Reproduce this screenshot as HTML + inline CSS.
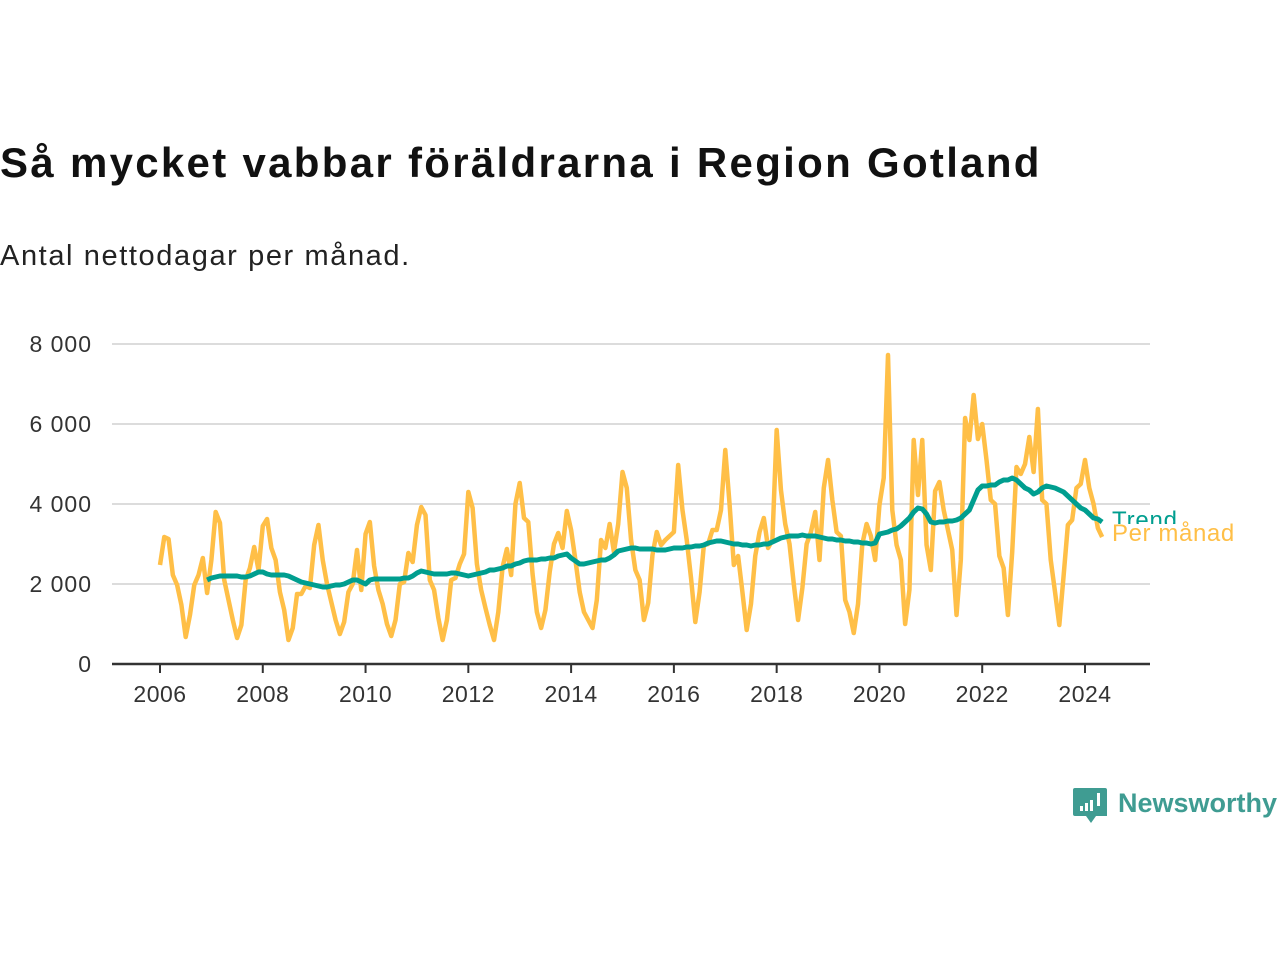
<!DOCTYPE html>
<html><head><meta charset="utf-8">
<style>
html,body{margin:0;padding:0;background:#fff;width:1280px;height:960px;overflow:hidden;font-family:"Liberation Sans","DejaVu Sans",sans-serif;}
#title{position:absolute;left:0;top:139px;font-size:42px;font-weight:bold;color:#111;margin:0;letter-spacing:2.3px}
#sub{position:absolute;left:0;top:240px;font-size:29px;color:#222;letter-spacing:1.6px}
svg{position:absolute;left:0;top:0}
</style></head><body>
<h1 id="title">Så mycket vabbar föräldrarna i Region Gotland</h1>
<div id="sub">Antal nettodagar per månad.</div>
<svg id="chart" width="1280" height="960"></svg>
<script>
const monthly = [
2475,3175,3125,2225,1975,1475,675,1225,1975,2225,2650,1775,
2600,3800,3525,2100,1600,1100,650,975,2100,2400,2925,2350,
3450,3625,2900,2600,1800,1350,600,900,1750,1750,1950,1900,
2975,3475,2600,2000,1550,1100,750,1050,1800,2000,2850,1850,
3250,3550,2450,1850,1500,1000,700,1100,2000,2050,2775,2550,
3475,3925,3725,2100,1850,1150,600,1100,2100,2150,2500,2750,
4300,3900,2500,1850,1400,975,600,1300,2425,2875,2225,4000,
4525,3650,3550,2250,1300,900,1350,2300,3000,3275,2900,3825,
3350,2600,1800,1300,1100,900,1600,3100,2900,3500,2800,3500,
4800,4400,3100,2350,2100,1100,1525,2725,3300,2975,3100,3200,
3300,4975,3850,3100,2150,1050,1800,2975,3000,3350,3350,3850,
5350,4000,2475,2700,1800,850,1500,2700,3300,3650,2900,3100,
5850,4350,3500,3000,2000,1100,1900,3000,3300,3800,2600,4400,
5100,4100,3300,3200,1600,1300,775,1500,3000,3500,3200,2600,
3975,4650,7725,3850,2975,2600,1000,1850,5600,4225,5600,2975,
2350,4325,4550,3850,3350,2850,1225,2600,6150,5600,6725,5625,
6000,5100,4100,4000,2700,2400,1225,2800,4925,4750,5000,5675,
4800,6375,4100,4000,2600,1800,975,2200,3475,3600,4400,4500,
5100,4400,4000,3400,3175];
const trendStart = 11;
const trend = [
2100,2150,2175,2200,2200,2200,2200,2200,2175,2175,2200,2250,2300,
2300,2250,2225,2225,2225,2225,2200,2150,2100,2050,2025,2000,
1975,1950,1925,1925,1950,1975,1975,2000,2050,2100,2100,2050,
2000,2100,2125,2125,2125,2125,2125,2125,2125,2150,2150,2200,
2275,2325,2300,2275,2250,2250,2250,2250,2275,2275,2250,2225,
2200,2225,2250,2275,2300,2350,2350,2375,2400,2450,2450,2500,
2525,2575,2600,2600,2600,2625,2625,2650,2650,2700,2725,2750,
2650,2575,2500,2500,2525,2550,2575,2600,2600,2650,2725,2825,
2850,2875,2900,2900,2875,2875,2875,2875,2850,2850,2850,2875,
2900,2900,2900,2925,2925,2950,2950,2975,3025,3050,3075,3075,
3050,3025,3000,3000,2975,2975,2950,2975,2975,3000,3000,3050,
3100,3150,3175,3200,3200,3200,3225,3200,3200,3200,3175,3150,
3125,3125,3100,3100,3075,3075,3050,3050,3025,3025,3000,3025,
3250,3275,3300,3350,3375,3450,3550,3650,3800,3900,3875,3750,
3550,3525,3550,3550,3575,3575,3600,3650,3750,3850,4100,4350,
4450,4450,4475,4475,4550,4600,4600,4650,4600,4500,4400,4350,
4250,4300,4400,4450,4425,4400,4350,4300,4200,4100,4000,3900,
3850,3750,3650,3625,3550];
const yTicks = [0,2000,4000,6000,8000];
const yTickLabels = ["0","2 000","4 000","6 000","8 000"];
const xYears = [2006,2008,2010,2012,2014,2016,2018,2020,2022,2024];

const NS="http://www.w3.org/2000/svg";
const svg=document.getElementById('chart');
const x0=160, pxYear=(1085-160)/18;
const xm = m => x0 + m*pxYear/12;
const xy = yr => x0 + (yr-2006)*pxYear;
const yv = v => 664 - v*0.04;
function mk(t,a){const e=document.createElementNS(NS,t);for(const k in a)e.setAttribute(k,a[k]);svg.appendChild(e);return e;}

yTicks.forEach((v,i)=>{
  if(v>0){const g=mk('line',{x1:112,x2:1150,y1:yv(v),y2:yv(v),stroke:'#dcdcdc','stroke-width':2});
  
  }
  const t=mk('text',{x:92,y:yv(v)+8,'text-anchor':'end','font-size':23,'letter-spacing':1,fill:'#333','font-family':'Liberation Sans, sans-serif'});
  t.textContent=yTickLabels[i];
  
  
});
const ax=mk('line',{x1:112,x2:1150,y1:664,y2:664,stroke:'#333','stroke-width':2.5});


xYears.forEach(yr=>{
  const tk=mk('line',{x1:xy(yr),x2:xy(yr),y1:664,y2:673,stroke:'#333','stroke-width':2});
  
  
  const t=mk('text',{x:xy(yr),y:702,'text-anchor':'middle','font-size':23,'letter-spacing':0.5,fill:'#333','font-family':'Liberation Sans, sans-serif'});
  t.textContent=yr;
  
  
});
const pm=mk('polyline',{points:monthly.map((v,i)=>xm(i)+','+yv(v)).join(' '),fill:'none',stroke:'#ffbf47','stroke-width':4.5,'stroke-linejoin':'round'});


const tr=mk('polyline',{points:trend.map((v,i)=>xm(i+trendStart)+','+yv(v)).join(' '),fill:'none',stroke:'#009e8f','stroke-width':5,'stroke-linejoin':'round'});


const l1=mk('text',{x:1112,y:528,'font-size':24,'letter-spacing':0.8,fill:'#009e8f','font-family':'Liberation Sans, sans-serif'});
l1.textContent='Trend';


const bg=mk('rect',{x:1110,y:524,width:135,height:20,fill:'#fff'});


const l2=mk('text',{x:1112,y:541,'font-size':24,'letter-spacing':0.6,fill:'#ffbf47','font-family':'Liberation Sans, sans-serif'});
l2.textContent='Per månad';


const lg=mk('path',{d:'M1075 788 h30 a2 2 0 0 1 2 2 v26 h-11 l-5 7 l-5 -7 h-11 a2 2 0 0 1 -2 -2 v-24 a2 2 0 0 1 2 -2z',fill:'#3f9c92'});


[[1080,806,5],[1085,803,8],[1090,800,11]].forEach(b=>{const r=mk('rect',{x:b[0],y:b[1],width:3,height:b[2],fill:'#fff'});});
const ex=mk('rect',{x:1097,y:793,width:3,height:13,fill:'#fff'});


const lt=mk('text',{x:1118,y:812,'font-size':27,'font-weight':'bold',fill:'#3f9c92','font-family':'Liberation Sans, sans-serif'});
lt.textContent='Newsworthy';


</script>
</body></html>
